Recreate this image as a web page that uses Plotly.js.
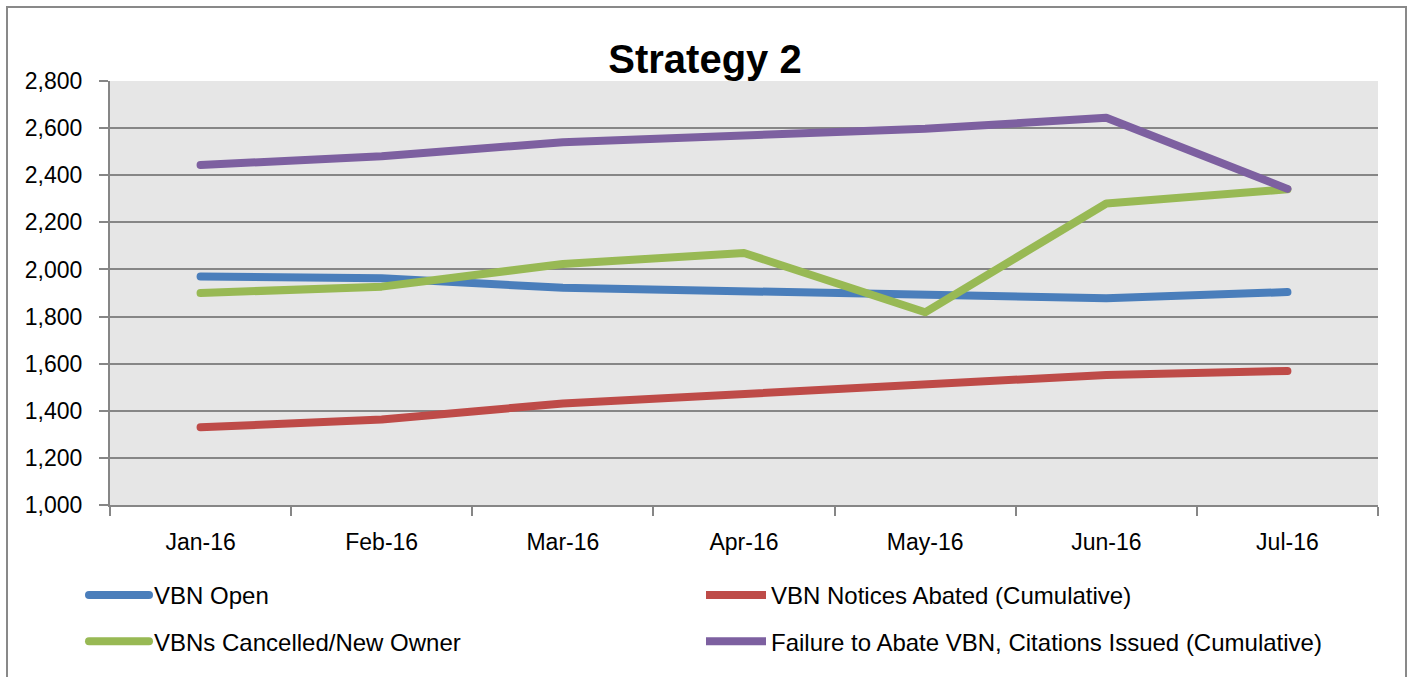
<!DOCTYPE html>
<html>
<head>
<meta charset="utf-8">
<script src="https://cdn.plot.ly/plotly-3.0.1.min.js"></script>
<style>
html,body{margin:0;padding:0;background:#fff;}
#chart{width:1408px;height:677px;}
</style>
</head>
<body>
<div id="chart"></div>
<script>
const months = ["Jan-16","Feb-16","Mar-16","Apr-16","May-16","Jun-16","Jul-16"];
const vbnOpen = [1970, 1963, 1922, 1908, 1892, 1878, 1904];
const vbnAbated = [1330, 1363, 1431, 1471, 1507, 1552, 1569];
const vbnCancelled = [1900, 1927, 2023, 2070, 1818, 2280, 2340];
const failureCitations = [2443, 2481, 2540, 2569, 2597, 2644, 2342];

const seriesNames = ["VBN Open", "VBN Notices Abated (Cumulative)", "VBNs Cancelled/New Owner", "Failure to Abate VBN, Citations Issued (Cumulative)"];
const seriesColors = ["#4A7EBB", "#BE4B48", "#98B954", "#7D60A0"];
const seriesValues = [vbnOpen, vbnAbated, vbnCancelled, failureCitations];
const seriesLegends = ["legend", "legend2", "legend", "legend2"];

const FONT = "Liberation Sans, Arial, sans-serif";

const traces = seriesValues.map((vals, i) => ({
  type: "scatter",
  mode: "lines",
  x: months,
  y: vals,
  name: seriesNames[i],
  legend: seriesLegends[i],
  legendgroup: "g" + i,
  line: {color: seriesColors[i], width: 8},
  hoverinfo: "x+y+name"
}));

const W = 1408, H = 677;
const m = {l: 110, r: 30, t: 81, b: 172, autoexpand: false};
const pw = W - m.l - m.r, ph = H - m.t - m.b;
const px = v => (v - m.l) / pw;
const py = v => (H - m.b - v) / ph;

const layout = {
  width: W, height: H,
  margin: m,
  paper_bgcolor: "#ffffff",
  plot_bgcolor: "#E6E6E6",
  font: {family: FONT, size: 23, color: "#000"},
  title: {
    text: "<b>Strategy 2</b>",
    font: {family: FONT, size: 40, color: "#000"},
    x: 705 / W, xanchor: "center",
    y: 1 - 59 / H, yanchor: "middle", xref: "container", yref: "container"
  },
  xaxis: {
    type: "category",
    showgrid: false,
    showline: true, linecolor: "#868686", linewidth: 2,
    ticks: "outside", tickson: "boundaries", ticklen: 9, tickwidth: 2, tickcolor: "#868686",
    ticklabelstandoff: 15,
    tickangle: 0,
    tickfont: {family: FONT, size: 23, color: "#000"},
    range: [-0.5, 6.5],
    automargin: false,
    fixedrange: true, zeroline: false
  },
  yaxis: {
    range: [1000, 2800],
    dtick: 200,
    tickformat: ",d",
    showgrid: true, gridcolor: "#868686", gridwidth: 2,
    showline: true, linecolor: "#868686", linewidth: 2,
    ticks: "outside", ticklen: 9, tickwidth: 2, tickcolor: "#868686",
    ticklabelstandoff: 12,
    automargin: false,
    tickfont: {family: FONT, size: 23, color: "#000"},
    zeroline: false, fixedrange: true
  },
  showlegend: true,
  legend: {
    xref: "container", yref: "container",
    x: 84 / W, xanchor: "left",
    y: 1 - 573 / H, yanchor: "top",
    orientation: "v",
    itemwidth: 60,
    tracegroupgap: 12,
    bgcolor: "rgba(0,0,0,0)",
    font: {family: FONT, size: 24, color: "#000"}
  },
  legend2: {
    xref: "container", yref: "container",
    x: 701 / W, xanchor: "left",
    y: 1 - 573 / H, yanchor: "top",
    orientation: "v",
    itemwidth: 60,
    tracegroupgap: 12,
    bgcolor: "rgba(0,0,0,0)",
    font: {family: FONT, size: 24, color: "#000"}
  },
  shapes: [
    {type: "rect", xref: "paper", yref: "paper",
     x0: px(7), x1: px(1406), y0: py(690), y1: py(7),
     line: {color: "#898989", width: 2}, fillcolor: "rgba(0,0,0,0)", layer: "below"}
  ]
};

Plotly.newPlot("chart", traces, layout, {displayModeBar: false, staticPlot: true}).then(gd => {
  gd.querySelectorAll(".scatterlayer .js-line, .legend .js-line").forEach(p => {
    p.style.strokeLinecap = "round";
    p.style.strokeLinejoin = "round";
  });
});
</script>
</body>
</html>
